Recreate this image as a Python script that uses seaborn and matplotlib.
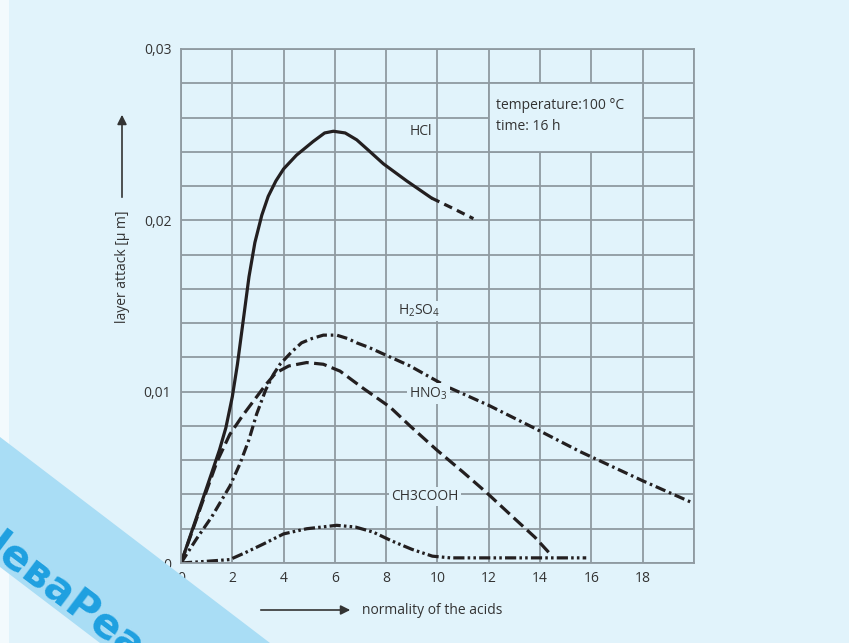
import numpy as np
import pandas as pd
import matplotlib
matplotlib.use("Agg")
import matplotlib.pyplot as plt
from matplotlib.patches import Rectangle, Polygon, FancyArrowPatch
import seaborn as sns

# values
hcl_x = [0, 0.5, 1.07, 1.5, 1.75, 2.0, 2.2, 2.43, 2.65, 2.88, 3.15, 3.4, 3.7, 4.0, 4.5, 5.15, 5.6, 5.94, 6.4, 6.85, 7.3, 7.89, 8.8, 9.77]
hcl_y = [0, 0.0022, 0.0047, 0.0066, 0.0079, 0.0097, 0.0116, 0.0142, 0.0167, 0.0187, 0.0203, 0.0214, 0.0223, 0.0230, 0.0238, 0.0246, 0.0251, 0.0252, 0.0251, 0.0247, 0.0241, 0.0233, 0.0223, 0.0213]
hcl_tail_x = [9.77, 10.6, 11.4]
hcl_tail_y = [0.0213, 0.0207, 0.0201]

h2so4_x = [0, 0.6, 1.2, 1.91, 2.3, 2.65, 2.95, 3.3, 3.6, 3.86, 4.3, 4.7, 5.1, 5.55, 6.07, 6.5, 6.85, 7.3, 7.89, 8.93, 10.36, 12.0, 13.74, 15.56, 18.0, 19.96]
h2so4_y = [0, 0.0014, 0.0027, 0.0045, 0.0058, 0.0072, 0.0087, 0.0101, 0.0110, 0.0116, 0.0123, 0.01285, 0.0131, 0.0133, 0.0133, 0.0131, 0.01285, 0.0126, 0.0122, 0.0115, 0.0103, 0.0092, 0.0079, 0.0065, 0.0048, 0.0035]

hno3_x = [0, 0.8, 1.4, 1.9, 2.4, 2.9, 3.3, 3.7, 4.2, 4.9, 5.55, 6.2, 7.1, 8.15, 8.93, 9.97, 11.0, 11.92, 13.0, 13.8, 14.35]
hno3_y = [0, 0.0034, 0.0059, 0.0075, 0.0086, 0.0096, 0.0104, 0.0111, 0.0115, 0.0117, 0.0116, 0.0112, 0.0102, 0.0091, 0.0080, 0.0066, 0.0053, 0.0041, 0.0026, 0.0015, 0.0006]

ch3cooh_x = [0, 1.0, 1.9, 2.5, 3.2, 4.0, 4.9, 6.07, 6.8, 7.5, 8.2, 9.0, 9.8, 10.5, 12.0, 14.0, 15.8]
ch3cooh_y = [0, 0.0001, 0.0002, 0.0006, 0.0011, 0.0017, 0.0020, 0.0022, 0.0021, 0.0018, 0.0013, 0.0008, 0.0004, 0.0003, 0.0003, 0.0003, 0.0003]

x_ticks = [0, 2, 4, 6, 8, 10, 12, 14, 16, 18, 20]
x_tick_labels = ["0", "2", "4", "6", "8", "10", "12", "14", "16", "18", ""]
y_ticks = [0, 0.002, 0.004, 0.006, 0.008, 0.01, 0.012, 0.014, 0.016, 0.018, 0.02, 0.022, 0.024, 0.026, 0.028, 0.03]
y_tick_labels = ["0", "", "", "", "", "0,01", "", "", "", "", "0,02", "", "", "", "", "0,03"]

BG = "#e1f3fb"
GRID = "#8f9aa1"
INK = "#231f20"
TXT = "#333333"

sns.set_theme(style="white")
plt.rcParams["font.family"] = ["Open Sans", "DejaVu Sans"]
plt.rcParams["mathtext.fontset"] = "custom"
plt.rcParams["mathtext.rm"] = "Open Sans"

fig = plt.figure(figsize=(8.49, 6.43), dpi=100, facecolor=BG)
ax = fig.add_axes([0.2132, 0.1244, 0.6042, 0.7994])
ax.set_facecolor(BG)

# watermark band and white left strip
fig.patches.append(Rectangle((0, 0), 9 / 849, 1, transform=fig.transFigure,
                             facecolor="#f3fafd", edgecolor="none", zorder=0))
band = [(0, 437), (270, 643), (100, 643), (0, 567)]
band = [(px / 849, 1 - py / 643) for px, py in band]
fig.patches.append(Polygon(band, closed=True, transform=fig.transFigure,
                           facecolor="#a9ddf5", edgecolor="none", zorder=0))
fig.text(-24 / 849, 1 - 530 / 643, "НеваРеактив", rotation=-37, rotation_mode="anchor",
         ha="left", va="center", fontsize=30, fontweight="bold", color="#1ea0e0",
         family=["DejaVu Sans"], zorder=1)

lw = 2.3
sns.lineplot(x=hcl_x, y=hcl_y, ax=ax, color=INK, lw=lw, sort=False, estimator=None)
sns.lineplot(x=hcl_tail_x, y=hcl_tail_y, ax=ax, color=INK, lw=lw, sort=False, estimator=None,
             linestyle=(0, (2.7, 1.7)))
sns.lineplot(x=h2so4_x, y=h2so4_y, ax=ax, color=INK, lw=lw, sort=False, estimator=None,
             linestyle=(0, (3.3, 1.2, 0.8, 1.2)))
sns.lineplot(x=hno3_x, y=hno3_y, ax=ax, color=INK, lw=lw, sort=False, estimator=None,
             linestyle=(0, (4.0, 1.7)))
sns.lineplot(x=ch3cooh_x, y=ch3cooh_y, ax=ax, color=INK, lw=lw, sort=False, estimator=None,
             linestyle=(0, (3.5, 1.0, 0.8, 1.0, 0.8, 1.0)))

ax.set_xlim(0, 20)
ax.set_ylim(0, 0.03)
ax.set_xticks(x_ticks)
ax.set_xticklabels(x_tick_labels)
ax.set_yticks(y_ticks)
ax.set_yticklabels(y_tick_labels)
ax.tick_params(length=0, labelsize=10, colors=TXT)
ax.tick_params(axis="y", pad=7)
ax.tick_params(axis="x", pad=6)
ax.grid(True, color=GRID, lw=1.3)
ax.set_axisbelow(True)
for s in ax.spines.values():
    s.set_color(GRID)
    s.set_linewidth(1.3)
ax.set_xlabel("")
ax.set_ylabel("")

# condition box
ax.add_patch(Rectangle((12, 0.024), 6, 0.004, facecolor=BG, edgecolor=GRID, lw=1.3, zorder=1.5))
ax.text(12.3, 0.0267, "temperature:100 °C", fontsize=10, color=TXT, va="center", zorder=3)
ax.text(12.3, 0.0255, "time: 16 h", fontsize=10, color=TXT, va="center", zorder=3)

lab = dict(fontsize=10, color=TXT, va="center", zorder=3,
           bbox=dict(facecolor=BG, edgecolor="none", pad=1.5))
ax.text(8.93, 0.0252, "HCl", **lab)
ax.text(8.46, 0.0147, r"H$_\mathregular{2}$SO$_\mathregular{4}$", **lab)
ax.text(8.9, 0.0099, r"HNO$_\mathregular{3}$", **lab)
ax.text(8.2, 0.00386, "CH3COOH", **lab)

# axis titles with arrows
fig.text(122 / 849, 1 - 267 / 643, "layer attack [µ m]", rotation=90, ha="center", va="center",
         fontsize=10, color=TXT)
fig.patches.append(FancyArrowPatch(
    (122 / 849, 1 - 200 / 643), (122 / 849, 1 - 112 / 643), transform=fig.transFigure,
    arrowstyle="-|>", mutation_scale=14, color=TXT, lw=1.2))
fig.patches.append(FancyArrowPatch(
    (258 / 849, 1 - 610 / 643), (353 / 849, 1 - 610 / 643), transform=fig.transFigure,
    arrowstyle="-|>", mutation_scale=14, color=TXT, lw=1.2))
fig.text(362 / 849, 1 - 610 / 643, "normality of the acids", ha="left", va="center",
         fontsize=10, color=TXT)

fig.savefig("out.png", dpi=100, facecolor=BG)
